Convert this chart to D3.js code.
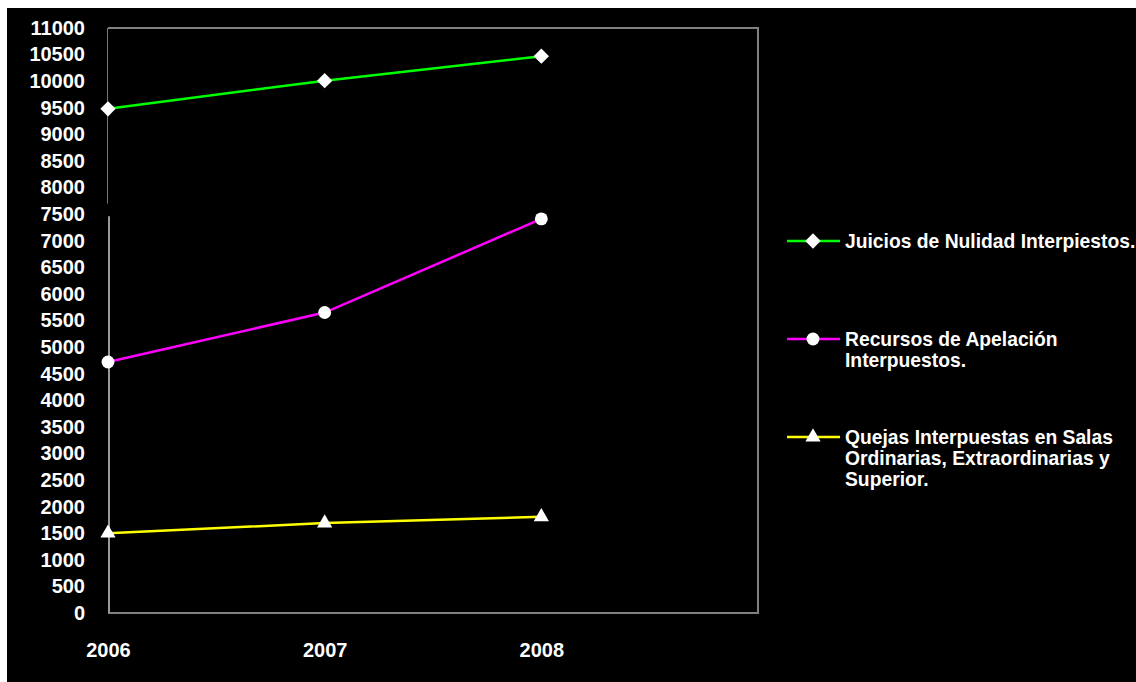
<!DOCTYPE html>
<html>
<head>
<meta charset="utf-8">
<script src="https://cdn.jsdelivr.net/npm/d3@7"></script>
<style>
  html, body { margin: 0; padding: 0; background: #fff; }
  svg { display: block; }
  text { font-family: "Liberation Sans", Arial, sans-serif; font-weight: bold; fill: #fff; }
</style>
</head>
<body>
<svg id="chart" width="1136" height="682"></svg>
<script>
// Years on the horizontal axis
const years = ["2006", "2007", "2008"];

// Yearly counts per series
const juicios = [9480, 10010, 10470];
const recursos = [4720, 5650, 7410];
const quejas = [1500, 1690, 1810];

// Vertical axis tick values
const yTicks = d3.range(0, 11001, 500);

// Legend labels (wrapped lines)
const legendLabels = [
  ["Juicios de Nulidad Interpiestos."],
  ["Recursos de Apelación", "Interpuestos."],
  ["Quejas Interpuestas en Salas", "Ordinarias, Extraordinarias y", "Superior."]
];

const series = [
  { values: juicios, color: "#00ff00", marker: "diamond" },
  { values: recursos, color: "#ff00ff", marker: "circle" },
  { values: quejas, color: "#ffff00", marker: "triangle" }
];

const svg = d3.select("#chart");

// Black panel behind the chart
svg.append("rect").attr("x", 7).attr("y", 8).attr("width", 1129).attr("height", 674).attr("fill", "#000");

const plot = { left: 108, top: 28, right: 758, bottom: 613 };

const x = d3.scaleLinear().domain([0, 3]).range([plot.left, plot.right]);
const y = d3.scaleLinear().domain([0, 11000]).range([plot.bottom, plot.top]);

// Plot frame: gray top/right/bottom
svg.append("path")
  .attr("d", `M${plot.left},${plot.top} H${plot.right} V${plot.bottom} H${plot.left}`)
  .attr("fill", "none").attr("stroke", "#808080").attr("stroke-width", 2);

// Left axis line
svg.append("line").attr("x1", plot.left - 0.5).attr("x2", plot.left - 0.5)
  .attr("y1", plot.top).attr("y2", y(7700)).attr("stroke", "#777").attr("stroke-width", 1);
svg.append("line").attr("x1", plot.left + 1).attr("x2", plot.left + 1)
  .attr("y1", y(7500) + 2).attr("y2", plot.bottom).attr("stroke", "#999").attr("stroke-width", 2);

// Y axis labels
const yAxis = d3.axisLeft(y).tickValues(yTicks).tickSize(0).tickPadding(23).tickFormat(d3.format("d"));
const gy = svg.append("g").attr("transform", `translate(${plot.left},0)`).call(yAxis);
gy.select(".domain").remove();
gy.selectAll("text").attr("fill", "#fff").style("font-size", "20px")
  .style("font-family", "'Liberation Sans', Arial, sans-serif").style("font-weight", "bold");

// X axis labels
const xAxis = d3.axisBottom(x).tickValues(years.map((d, i) => i)).tickSize(0).tickPadding(30)
  .tickFormat(i => years[i]);
const gx = svg.append("g").attr("transform", `translate(0,${plot.bottom})`).call(xAxis);
gx.select(".domain").remove();
gx.selectAll("text").attr("fill", "#fff").style("font-size", "20px")
  .style("font-family", "'Liberation Sans', Arial, sans-serif").style("font-weight", "bold");

function markerPath(type) {
  if (type === "diamond") return d3.symbol(d3.symbolDiamond2, 150)();
  if (type === "circle") return d3.symbol(d3.symbolCircle, 130)();
  return d3.symbol(d3.symbolTriangle, 100)();
}

const line = d3.line().x((d, i) => x(i)).y(d => y(d));

series.forEach(s => {
  svg.append("path").datum(s.values).attr("d", line)
    .attr("fill", "none").attr("stroke", s.color).attr("stroke-width", 2.5);
  svg.selectAll(null).data(s.values).enter().append("path")
    .attr("d", markerPath(s.marker))
    .attr("transform", (d, i) => `translate(${x(i)},${y(d)})`)
    .attr("fill", "#fff");
});

// Legend
const legendY = [241, 339, 437];
series.forEach((s, k) => {
  const g = svg.append("g").attr("transform", `translate(0,${legendY[k]})`);
  g.append("line").attr("x1", 787).attr("x2", 840).attr("y1", 0).attr("y2", 0)
    .attr("stroke", s.color).attr("stroke-width", 2.5);
  g.append("path").attr("d", markerPath(s.marker)).attr("transform", "translate(813,0)").attr("fill", "#fff");
  const t = g.append("text").attr("x", 845).attr("y", 0).style("font-size", "19.3px");
  legendLabels[k].forEach((ln, j) => {
    t.append("tspan").attr("x", 845).attr("dy", j === 0 ? "0.35em" : "21px").text(ln);
  });
});
</script>
</body>
</html>
